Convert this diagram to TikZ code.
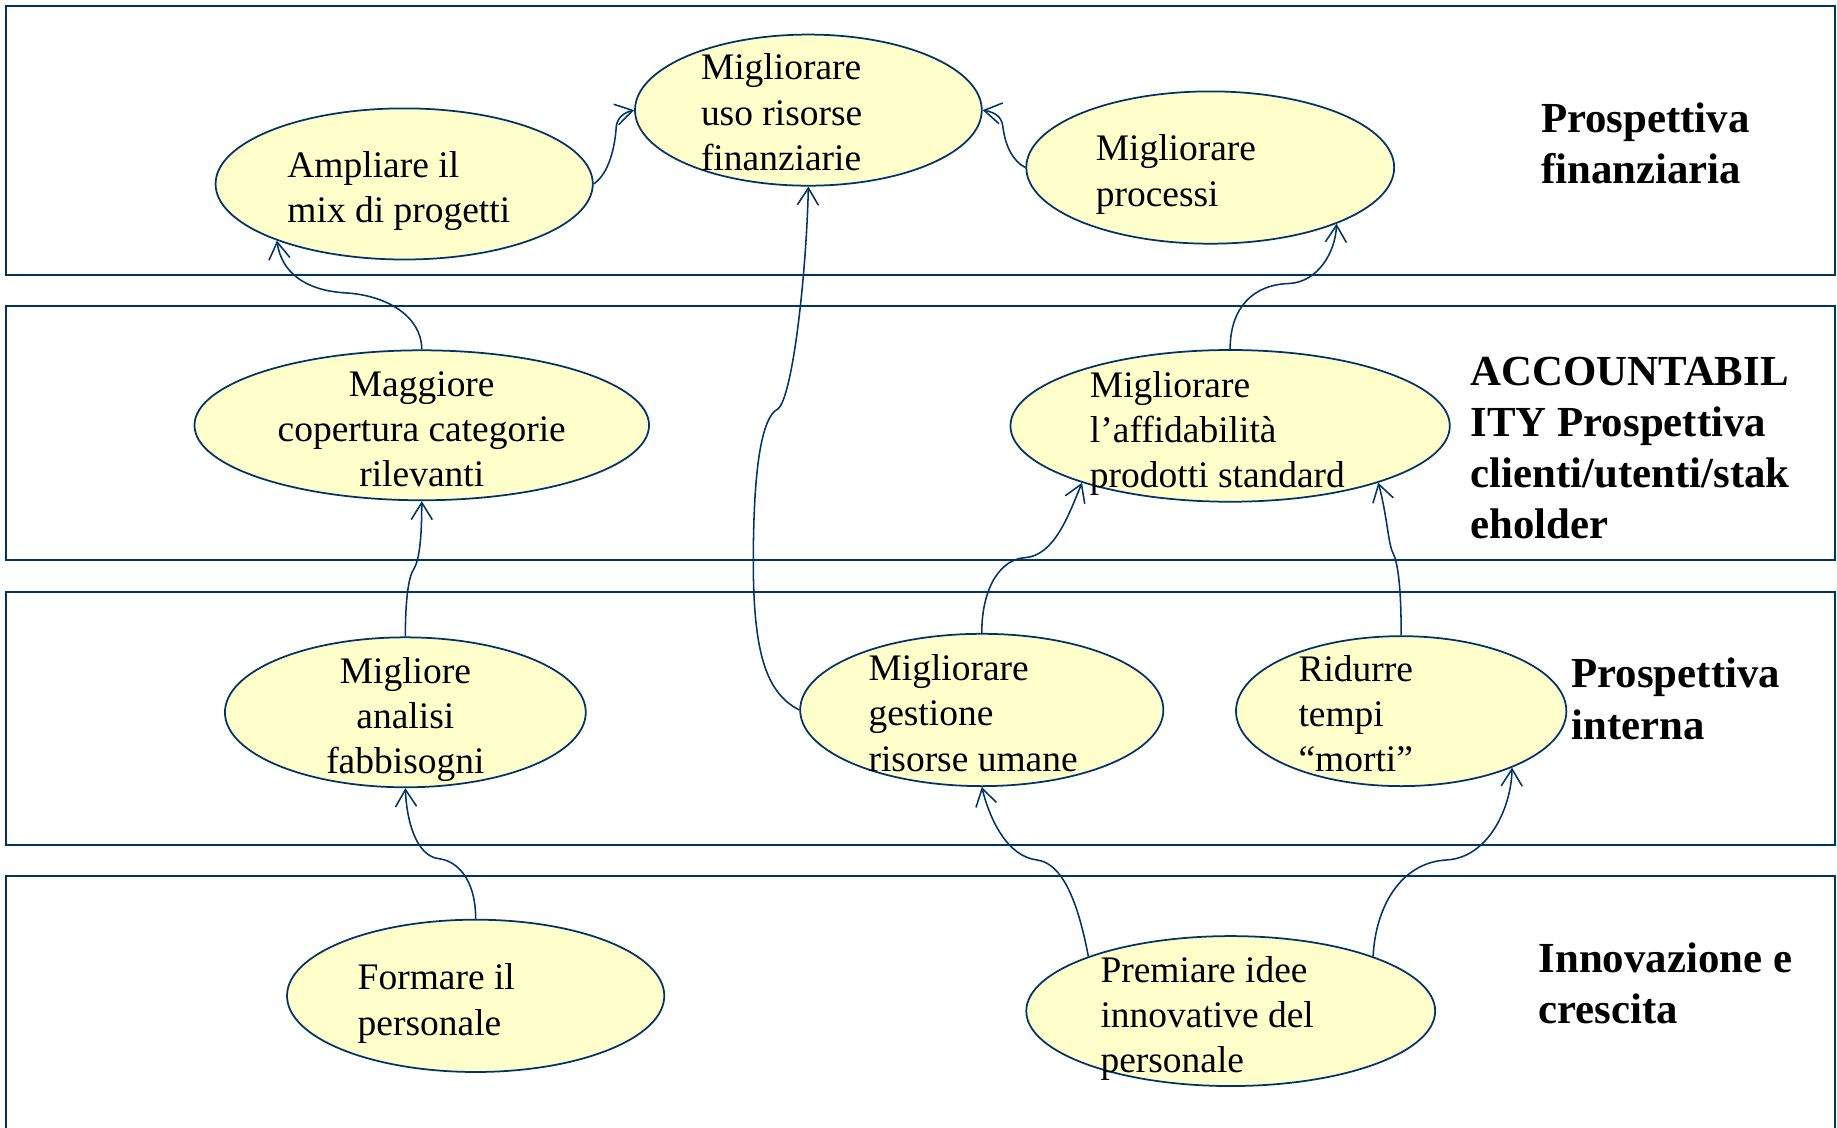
\documentclass[tikz,border=0pt]{standalone}
\usepackage{fontspec}
\setmainfont{Liberation Serif}
\usetikzlibrary{shapes.geometric,arrows.meta}
\definecolor{navy}{RGB}{0,51,102}
\definecolor{paleyellow}{RGB}{255,255,204}
\begin{document}
\begin{tikzpicture}[x=0.2mm,y=-0.2mm,
  band/.style={draw=navy,line width=1.1pt},
  goal/.style={ellipse,draw=navy,fill=paleyellow,line width=0.85pt,inner sep=0pt},
  goaltext/.style={font=\fontsize{18.2}{22}\selectfont,align=left,inner sep=0pt},
  goaltextc/.style={font=\fontsize{18.2}{22}\selectfont,align=center,inner sep=0pt},
  persp/.style={font=\fontsize{20.8}{24.8}\selectfont\bfseries,align=left,inner sep=0pt,anchor=west},
  link/.style={draw=navy,line width=0.75pt,-{Straight Barb[length=2.9mm,width=3.6mm]}}
]
\useasboundingbox (0,0) rectangle (1568,962);

% bands
\draw[band] (5,5) rectangle (1566,235);
\draw[band] (5,261) rectangle (1566,478);
\draw[band] (5,505) rectangle (1566,721);
\draw[band] (5,975) -- (5,748) -- (1566,748) -- (1566,975);

% goals
\node[goal,minimum width=64.4mm,minimum height=25.8mm] (A) at (345,157) {};
\node[goal,minimum width=59.2mm,minimum height=25.8mm] (B) at (690,94) {};
\node[goal,minimum width=62.8mm,minimum height=26mm] (C) at (1033,143) {};
\node[goal,minimum width=77.6mm,minimum height=25.6mm] (D) at (360,363) {};
\node[goal,minimum width=75mm,minimum height=25.9mm] (E) at (1050,363.5) {};
\node[goal,minimum width=61.6mm,minimum height=25.6mm] (F) at (346,608) {};
\node[goal,minimum width=62mm,minimum height=26mm] (G) at (838,606) {};
\node[goal,minimum width=56.4mm,minimum height=25.6mm] (H) at (1196,607) {};
\node[goal,minimum width=64.4mm,minimum height=26mm] (I) at (406,850) {};
\node[goal,minimum width=69.8mm,minimum height=25.6mm] (J) at (1050.5,863) {};

% goal texts
\node[goaltext,anchor=west] (At) at (245,163) {Ampliare il\\mix di progetti};
\node[goaltext,anchor=west] (Bt) at (598,96) {Migliorare\\uso risorse\\finanziarie};
\node[goaltext,anchor=west] (Ct) at (935,149) {Migliorare\\processi};
\node[goaltextc] (Dt) at (360,366.5) {Maggiore\\copertura categorie\\rilevanti};
\node[goaltext,anchor=west] (Et) at (930,370) {Migliorare\\l’affidabilità\\prodotti standard};
\node[goaltextc] (Ft) at (346,614) {Migliore\\analisi\\fabbisogni};
\node[goaltext,anchor=west] (Gt) at (741,608.5) {Migliorare\\gestione\\risorse umane};
\node[goaltext,anchor=west] (Ht) at (1108,609) {Ridurre\\tempi\\“morti”};
\node[goaltext,anchor=west] (It) at (305,856.5) {Formare il\\personale};
\node[goaltext,anchor=west] (Jt) at (939,869.5) {Premiare idee\\innovative del\\personale};

% perspective labels
\node[persp] (L1) at (1315,122.5) {Prospettiva\\finanziaria};
\node[persp] (L2) at (1255,382.5) {ACCOUNTABIL\\ITY Prospettiva\\clienti/utenti/stak\\eholder};
\node[persp] (L3) at (1341,596.5) {Prospettiva\\interna};
\node[persp] (L4) at (1313,839.5) {Innovazione e\\crescita};

% links
\draw[link] (A.east) .. controls (520,148) and (525,125) .. (526,108) .. controls (527,100) and (533,96) .. (B.west);
\draw[link] (C.west) .. controls (865,138) and (858,125) .. (856,108) .. controls (855,100) and (850,96) .. (B.east);
\draw[link] (D.north) .. controls (360,270) and (330,252) .. (295,250) .. controls (260,248) and (240,232) .. (A.204);
\draw[link] (G.west) .. controls (655,592) and (643,560) .. (643,480) .. controls (643,400) and (650,356) .. (664,349) .. controls (676,340) and (688,240) .. (B.south);
\draw[link] (E.north) .. controls (1050,262) and (1070,243) .. (1100,242) .. controls (1125,241) and (1140,215) .. (C.336);
\draw[link] (F.north) .. controls (346,510) and (349,492) .. (353,486) .. controls (357,480) and (360,465) .. (D.south);
\draw[link] (G.north) .. controls (838,500) and (855,477) .. (875,476) .. controls (900,474) and (912,440) .. (E.201);
\draw[link] (H.north) .. controls (1196,500) and (1193,480) .. (1189,472) .. controls (1185,465) and (1184,440) .. (E.339);
\draw[link] (I.north) .. controls (406,750) and (390,735) .. (375,733) .. controls (355,731) and (347,700) .. (F.south);
\draw[link] (J.159) .. controls (922,780) and (910,737) .. (885,734) .. controls (860,731) and (845,700) .. (G.south);
\draw[link] (J.21) .. controls (1174,775) and (1195,736) .. (1235,734) .. controls (1270,732) and (1290,690) .. (H.333);
\end{tikzpicture}
\end{document}
